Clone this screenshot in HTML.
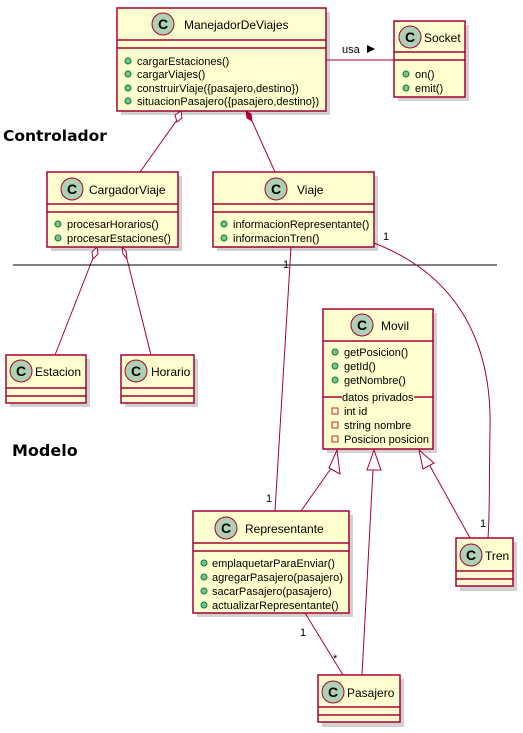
<!DOCTYPE html>
<html><head><meta charset="utf-8"><style>
html,body{margin:0;padding:0;background:#fff;}
svg{display:block;}
text{font-family:"Liberation Sans",sans-serif;}
.m{font-size:11px;fill:#000;}
.t{font-size:12px;fill:#000;}
.b{fill:#FEFECE;stroke:#A80036;stroke-width:1.5;}
.l{stroke:#A80036;stroke-width:1;fill:none;}
.sh{fill:#000;opacity:0.18;}
.ci{fill:#ADD1B2;stroke:#A80036;stroke-width:1;}
.pub{fill:#84BE84;stroke:#038048;stroke-width:1;}
.pri{fill:none;stroke:#C82930;stroke-width:1;}
</style></head><body>
<svg width="523" height="733" viewBox="0 0 523 733" xmlns="http://www.w3.org/2000/svg">
<defs>
<g id="cc"><circle class="ci" cx="0" cy="0" r="11"/><text x="0" y="5" text-anchor="middle" style="font-size:14px;font-weight:bold;">C</text></g>
</defs>
<rect class="sh" x="121" y="12" width="209" height="103"/>
<rect class="sh" x="398" y="25" width="71" height="76"/>
<rect class="sh" x="51" y="176" width="131" height="75"/>
<rect class="sh" x="217" y="176" width="161" height="75"/>
<rect class="sh" x="10" y="359" width="80" height="48"/>
<rect class="sh" x="125" y="359" width="73" height="48"/>
<rect class="sh" x="327" y="313" width="110" height="140"/>
<rect class="sh" x="197" y="515" width="156" height="102"/>
<rect class="sh" x="460" y="542" width="57" height="49"/>
<rect class="sh" x="322" y="679" width="82" height="48"/>

<line class="l" x1="326" y1="60" x2="394" y2="60"/>
<text class="m" x="342" y="53">usa</text><polygon points="367,45 375,49 367,53" fill="#000"/>
<line class="l" x1="177" y1="120" x2="140" y2="172"/>
<polygon points="181,111 182,118 177,122 175,115" fill="#fff" stroke="#A80036"/>
<line class="l" x1="252" y1="121" x2="275" y2="172"/>
<polygon points="246,111 251,114 252,121 247,118" fill="#A80036" stroke="#A80036"/>
<line class="l" x1="93" y1="258" x2="55" y2="355"/>
<polygon points="97,247 98,254 93,259 92,252" fill="#fff" stroke="#A80036"/>
<line class="l" x1="127" y1="259" x2="151" y2="355"/>
<polygon points="122,247 126,251 127,259 123,254" fill="#fff" stroke="#A80036"/>
<line x1="13" y1="265" x2="497" y2="265" stroke="#000" stroke-width="1"/>
<line class="l" x1="291" y1="247" x2="275" y2="511"/>
<text class="m" x="283" y="268">1</text>
<text class="m" x="266" y="502">1</text>
<path class="l" d="M374,243 C470,280 492,360 490,430 C489,480 490,510 488,538"/>
<text class="m" x="383" y="240">1</text>
<text class="m" x="480" y="527">1</text>
<line class="l" x1="301" y1="511" x2="332" y2="467"/>
<polygon points="337,450 329,468 340,474" fill="#fff" stroke="#A80036"/>
<line class="l" x1="362" y1="675" x2="373" y2="470"/>
<polygon points="374,450 367,470 381,470" fill="#fff" stroke="#A80036"/>
<line class="l" x1="470" y1="538" x2="430" y2="466"/>
<polygon points="419,450 423,469 434,463" fill="#fff" stroke="#A80036"/>
<line class="l" x1="305" y1="613" x2="343" y2="675"/>
<text class="m" x="300" y="636">1</text>
<text class="m" x="333" y="662">*</text>

<rect class="b" x="117" y="8" width="209" height="103"/>
<line class="l" x1="117" y1="40" x2="326" y2="40" style="stroke-width:1.5"/>
<line class="l" x1="117" y1="48" x2="326" y2="48" style="stroke-width:1.5"/>
<use href="#cc" x="163" y="24"/>
<text class="t" x="184" y="29">ManejadorDeViajes</text>
<circle class="pub" cx="128" cy="61" r="3"/><text class="m" x="137" y="65">cargarEstaciones()</text>
<circle class="pub" cx="128" cy="74" r="3"/><text class="m" x="137" y="78">cargarViajes()</text>
<circle class="pub" cx="128" cy="88" r="3"/><text class="m" x="137" y="92">construirViaje({pasajero,destino})</text>
<circle class="pub" cx="128" cy="101" r="3"/><text class="m" x="137" y="105">situacionPasajero({pasajero,destino})</text>

<rect class="b" x="394" y="21" width="71" height="76"/>
<line class="l" x1="394" y1="52" x2="465" y2="52" style="stroke-width:1.5"/>
<line class="l" x1="394" y1="60" x2="465" y2="60" style="stroke-width:1.5"/>
<use href="#cc" x="410" y="37"/>
<text class="t" x="424" y="42">Socket</text>
<circle class="pub" cx="406" cy="74" r="3"/><text class="m" x="415" y="78">on()</text>
<circle class="pub" cx="406" cy="88" r="3"/><text class="m" x="415" y="92">emit()</text>

<text x="3" y="141" style="font-size:15.5px;font-weight:bold;font-family:'DejaVu Sans',sans-serif;">Controlador</text>
<text x="12" y="456" style="font-size:16px;font-weight:bold;font-family:'DejaVu Sans',sans-serif;">Modelo</text>

<rect class="b" x="47" y="172" width="131" height="75"/>
<line class="l" x1="47" y1="204" x2="178" y2="204" style="stroke-width:1.5"/>
<line class="l" x1="47" y1="212" x2="178" y2="212" style="stroke-width:1.5"/>
<use href="#cc" x="72" y="189"/>
<text class="t" x="89" y="194">CargadorViaje</text>
<circle class="pub" cx="58" cy="224" r="3"/><text class="m" x="67" y="228">procesarHorarios()</text>
<circle class="pub" cx="58" cy="238" r="3"/><text class="m" x="67" y="242">procesarEstaciones()</text>

<rect class="b" x="213" y="172" width="161" height="75"/>
<line class="l" x1="213" y1="204" x2="374" y2="204" style="stroke-width:1.5"/>
<line class="l" x1="213" y1="212" x2="374" y2="212" style="stroke-width:1.5"/>
<use href="#cc" x="276" y="189"/>
<text class="t" x="297" y="194">Viaje</text>
<circle class="pub" cx="224" cy="224" r="3"/><text class="m" x="233" y="228">informacionRepresentante()</text>
<circle class="pub" cx="224" cy="238" r="3"/><text class="m" x="233" y="242">informacionTren()</text>

<rect class="b" x="6" y="355" width="80" height="48"/>
<line class="l" x1="6" y1="388" x2="86" y2="388" style="stroke-width:1.5"/>
<line class="l" x1="6" y1="396" x2="86" y2="396" style="stroke-width:1.5"/>
<use href="#cc" x="21" y="371"/>
<text class="t" x="35" y="376">Estacion</text>

<rect class="b" x="121" y="355" width="73" height="48"/>
<line class="l" x1="121" y1="388" x2="194" y2="388" style="stroke-width:1.5"/>
<line class="l" x1="121" y1="396" x2="194" y2="396" style="stroke-width:1.5"/>
<use href="#cc" x="136" y="371"/>
<text class="t" x="151" y="376">Horario</text>

<rect class="b" x="323" y="309" width="110" height="140"/>
<line class="l" x1="323" y1="341" x2="433" y2="341" style="stroke-width:1.5"/>
<line class="l" x1="323" y1="397" x2="342" y2="397" style="stroke-width:1.5"/>
<line class="l" x1="414" y1="397" x2="433" y2="397" style="stroke-width:1.5"/>
<use href="#cc" x="362" y="325"/>
<text class="t" x="381" y="330">Movil</text>
<circle class="pub" cx="335" cy="352" r="3"/><text class="m" x="344" y="356">getPosicion()</text>
<circle class="pub" cx="335" cy="366" r="3"/><text class="m" x="344" y="370">getId()</text>
<circle class="pub" cx="335" cy="380" r="3"/><text class="m" x="344" y="384">getNombre()</text>
<text class="m" x="342" y="401">datos privados</text>
<rect class="pri" x="332" y="408" width="6" height="6"/><text class="m" x="344" y="415">int id</text>
<rect class="pri" x="332" y="422" width="6" height="6"/><text class="m" x="344" y="429">string nombre</text>
<rect class="pri" x="332" y="436" width="6" height="6"/><text class="m" x="344" y="443">Posicion posicion</text>

<rect class="b" x="193" y="511" width="156" height="102"/>
<line class="l" x1="193" y1="543" x2="349" y2="543" style="stroke-width:1.5"/>
<line class="l" x1="193" y1="551" x2="349" y2="551" style="stroke-width:1.5"/>
<use href="#cc" x="226" y="528"/>
<text class="t" x="245" y="533">Representante</text>
<circle class="pub" cx="204" cy="563" r="3"/><text class="m" x="212" y="567">emplaquetarParaEnviar()</text>
<circle class="pub" cx="204" cy="577" r="3"/><text class="m" x="212" y="581">agregarPasajero(pasajero)</text>
<circle class="pub" cx="204" cy="591" r="3"/><text class="m" x="212" y="595">sacarPasajero(pasajero)</text>
<circle class="pub" cx="204" cy="605" r="3"/><text class="m" x="212" y="609">actualizarRepresentante()</text>

<rect class="b" x="456" y="538" width="57" height="48"/>
<line class="l" x1="456" y1="571" x2="513" y2="571" style="stroke-width:1.5"/>
<line class="l" x1="456" y1="579" x2="513" y2="579" style="stroke-width:1.5"/>
<use href="#cc" x="471" y="555"/>
<text class="t" x="485" y="560">Tren</text>

<rect class="b" x="318" y="675" width="82" height="47"/>
<line class="l" x1="318" y1="707" x2="400" y2="707" style="stroke-width:1.5"/>
<line class="l" x1="318" y1="715" x2="400" y2="715" style="stroke-width:1.5"/>
<use href="#cc" x="333" y="692"/>
<text class="t" x="347" y="697">Pasajero</text>
</svg>
</body></html>
